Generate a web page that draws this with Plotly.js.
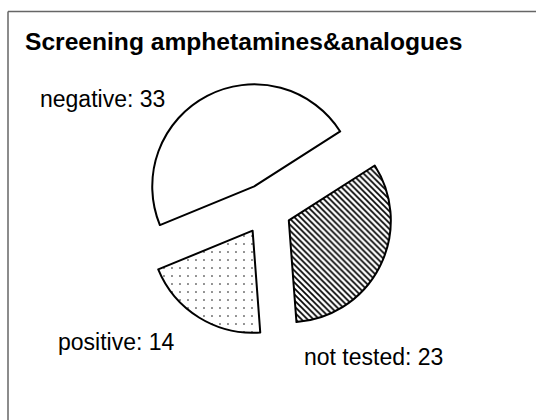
<!DOCTYPE html>
<html>
<head>
<meta charset="utf-8">
<script src="https://cdn.plot.ly/plotly-3.0.1.min.js"></script>
<style>html,body{margin:0;padding:0;background:#fff;overflow:hidden;}#chart{width:536px;height:420px;}</style>
</head>
<body>
<div id="chart"></div>
<script>
// Data
var categories = ["negative", "not tested", "positive"];
var counts = [33, 23, 14];
var chartTitle = "Screening amphetamines&analogues";

// Styling (not data)
var patternShapes = ["", "\\", "."];
var patternSizes = [8, 4.2, 8];
var patternSolidity = [0.3, 0.4, 0.03];
var labelPos = [
  {x: 38 / 536, y: 1 - 99 / 420},   // negative
  {x: 302 / 536, y: 1 - 357 / 420}, // not tested
  {x: 56 / 536, y: 1 - 342 / 420}   // positive
];

var trace = {
  type: "pie",
  labels: categories,
  values: counts,
  sort: false,
  direction: "clockwise",
  rotation: -112.3,
  pull: [0.25, 0.25, 0.25],
  textinfo: "none",
  hoverinfo: "label+value",
  showlegend: false,
  domain: {x: [138.5 / 536, 393.5 / 536], y: [83.5 / 420, 338.5 / 420]},
  marker: {
    colors: ["white", "white", "white"],
    line: {color: "black", width: 2},
    pattern: {
      shape: patternShapes,
      size: patternSizes,
      solidity: patternSolidity,
      fgcolor: "black",
      bgcolor: "white",
      fillmode: "replace"
    }
  }
};

var annotations = categories.map(function (c, i) {
  return {
    text: c + ": " + counts[i],
    xref: "paper", yref: "paper",
    x: labelPos[i].x, y: labelPos[i].y,
    xanchor: "left", yanchor: "middle",
    showarrow: false,
    font: {family: "Liberation Sans, Arial, sans-serif", size: 23, color: "black"}
  };
});

var layout = {
  width: 536, height: 420,
  margin: {l: 0, r: 0, t: 0, b: 0},
  paper_bgcolor: "white",
  title: {
    text: "<b>" + chartTitle + "</b>",
    x: 25 / 536, xanchor: "left", xref: "container",
    y: 1 - 41 / 420, yanchor: "middle", yref: "container",
    font: {family: "Liberation Sans, Arial, sans-serif", size: 24.6, color: "black"}
  },
  annotations: annotations,
  shapes: [
    {type: "line", xref: "paper", yref: "paper",
     x0: 8 / 536, x1: 1.05, y0: 1 - 11.5 / 420, y1: 1 - 11.5 / 420,
     line: {color: "#666", width: 1.5}},
    {type: "line", xref: "paper", yref: "paper",
     x0: 8 / 536, x1: 8 / 536, y0: -0.05, y1: 1 - 11.5 / 420,
     line: {color: "#666", width: 1.5}}
  ]
};

Plotly.newPlot("chart", [trace], layout, {displayModeBar: false, staticPlot: true});
</script>
</body>
</html>
